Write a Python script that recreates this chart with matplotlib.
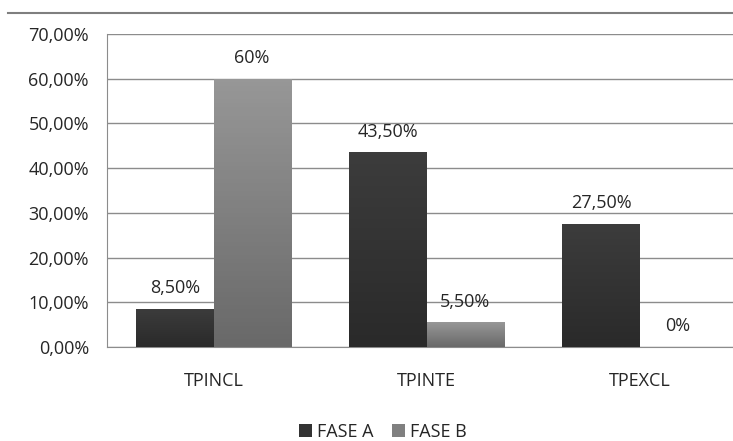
import numpy as np
import matplotlib
matplotlib.use("Agg")
import matplotlib.pyplot as plt
from matplotlib.lines import Line2D
from matplotlib.patches import Patch

categories = ["TPINCL", "TPINTE", "TPEXCL"]
fase_a = [8.5, 43.5, 27.5]
fase_b = [60.0, 5.5, 0.0]
labels_a = ["8,50%", "43,50%", "27,50%"]
labels_b = ["60%", "5,50%", "0%"]
series_names = ["FASE A", "FASE B"]
yticks = [0, 10, 20, 30, 40, 50, 60, 70]

plt.rcParams['font.family'] = ['Open Sans', 'DejaVu Sans']
FS = 13
TXT = "#262626"

fig = plt.figure(figsize=(7.33, 4.41), dpi=100)
# axes spans three categories of 213 px each, right edge falls past the image
ax = fig.add_axes([107 / 733, (441 - 347) / 441, 639 / 733, 313 / 441])

x = np.arange(len(categories))
w = 0.362


def grad_bar(ax, xc, h, top, bottom):
    if h <= 0:
        return
    bar = ax.bar(xc, h, w, color="none", edgecolor="none", zorder=3)[0]
    g = np.linspace(0, 1, 64).reshape(-1, 1)
    cmap = matplotlib.colors.LinearSegmentedColormap.from_list("g", [bottom, top])
    im = ax.imshow(g, cmap=cmap, aspect="auto", origin="lower",
                   extent=[xc - w / 2, xc + w / 2, 0, h], zorder=3)
    im.set_clip_path(bar)


for i in range(len(categories)):
    grad_bar(ax, x[i] - w / 2, fase_a[i], "#3c3c3c", "#2a2a2a")
    grad_bar(ax, x[i] + w / 2, fase_b[i], "#979797", "#696969")
    ax.annotate(labels_a[i], (x[i] - w / 2, fase_a[i]), xytext=(0, 15),
                textcoords="offset points", ha="center", va="center",
                fontsize=FS, color=TXT)
    ax.annotate(labels_b[i], (x[i] + w / 2, fase_b[i]), xytext=(0, 15),
                textcoords="offset points", ha="center", va="center",
                fontsize=FS, color=TXT)

ax.set_xlim(-0.5, 2.5)
ax.set_ylim(0, 70)
ax.set_yticks(yticks)
ax.set_yticklabels([f"{v},00%" for v in yticks], fontsize=FS, color=TXT)
ax.set_xticks(x)
ax.set_xticklabels(categories, fontsize=FS, color=TXT)
ax.tick_params(axis="both", length=0)
ax.tick_params(axis="x", pad=18)
ax.tick_params(axis="y", pad=13)
ax.grid(axis="y", color="#8c8c8c", linewidth=1.0, zorder=0)
ax.set_axisbelow(True)
for s in ["top", "right"]:
    ax.spines[s].set_visible(False)
ax.spines["left"].set_color("#8c8c8c")
ax.spines["bottom"].set_color("#8c8c8c")

# frame line at top of the chart
fig.add_artist(Line2D([8 / 733, 1.0], [1 - 13 / 441, 1 - 13 / 441],
                      color="#7f7f7f", linewidth=1.5))

handles = [Patch(facecolor="#333333"), Patch(facecolor="#808080")]
fig.legend(handles, series_names, loc="center", bbox_to_anchor=(383 / 733, 1 - 432 / 441),
           ncol=2, frameon=False, fontsize=FS, handlelength=0.7, handleheight=0.7,
           handletextpad=0.3, columnspacing=1.0, labelcolor=TXT,
           borderpad=0.2)

fig.savefig("out.png", dpi=100)
